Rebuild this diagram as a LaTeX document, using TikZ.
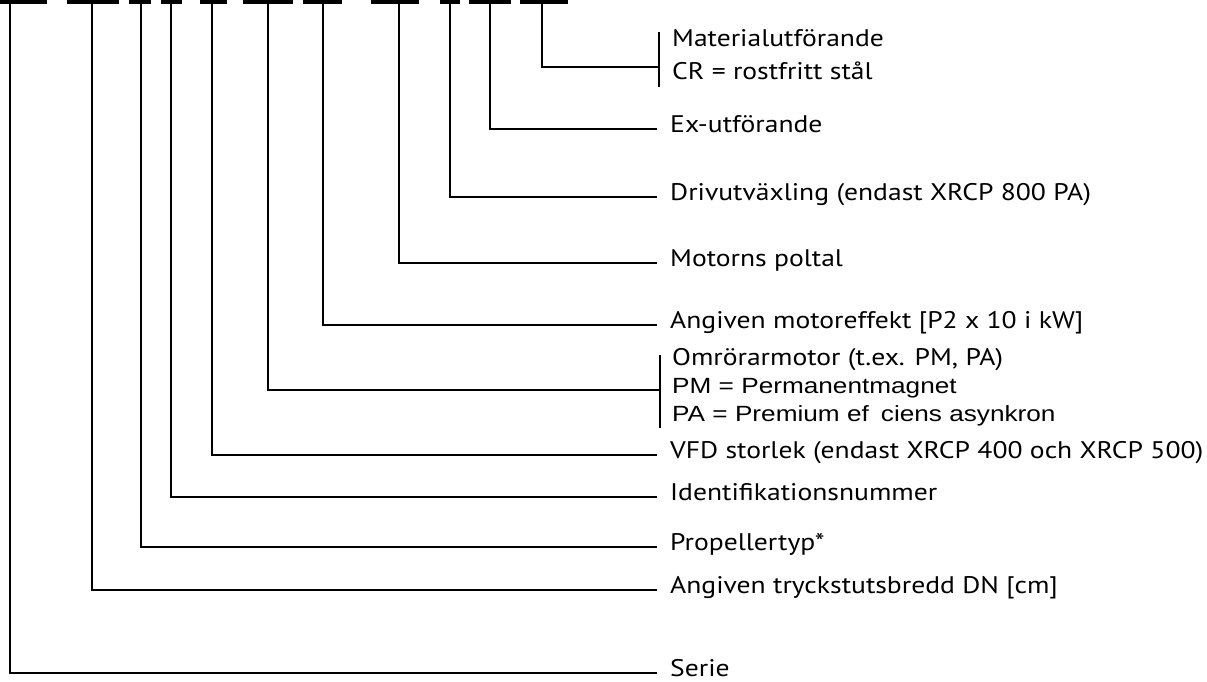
\documentclass[tikz,border=0pt]{standalone}
\usepackage{fontspec}
\setmainfont[FakeStretch=1.15]{PT Sans}
\newfontfamily\arialf[FakeStretch=1.19]{Liberation Sans}
\begin{document}
\begin{tikzpicture}[x=1pt,y=-1pt,
  lbl/.style={anchor=west, inner xsep=13pt, inner ysep=0pt, text height=0.7em, text depth=0pt, font=\fontsize{24}{28}\selectfont},
  albl/.style={lbl, font=\arialf\fontsize{22}{27}\selectfont},
  bar/.style={line width=4pt},
  conn/.style={line width=1.3pt},
  brk/.style={line width=1.3pt}]
\useasboundingbox (0,0) rectangle (1207,682);
% top bars
\foreach \a/\b in {0/47,67/119,129/151,161/182,200/227,243/293,303/342,371/419,440/460,469/511,520/568}
  \draw[bar] (\a,2) -- (\b,2);
\coordinate (b1) at (10,4);
\coordinate (b2) at (92,4);
\coordinate (b3) at (141,4);
\coordinate (b4) at (171,4);
\coordinate (b5) at (212,4);
\coordinate (b6) at (268,4);
\coordinate (b7) at (323,4);
\coordinate (b8) at (399,4);
\coordinate (b9) at (450,4);
\coordinate (b10) at (490,4);
\coordinate (b11) at (542,4);
% labels
\node[lbl] (mat1) at (659,43) {Materialutförande};
\node[lbl] (mat2) at (659,76) {CR = rostfritt stål};
\coordinate (matt) at (659,32);
\coordinate (matb) at (659,87);
\coordinate (matc) at (659,67);
\node[lbl] (ex) at (657,129) {Ex-utförande};
\node[lbl] (driv) at (657,197) {Drivutväxling (endast XRCP 800 PA)};
\node[lbl] (pol) at (657,263) {Motorns poltal};
\node[lbl] (eff) at (657,325) {Angiven motoreffekt [P2 x 10 i kW]};
\node[lbl] (om1) at (659,362) {Omrörarmotor (t.ex. PM, PA)};
\node[albl] (om2) at (659,390) {PM = Permanentmagnet};
\node[albl] (om3) at (659,418) {PA = Premium ef\hspace{0.55em}ciens asynkron};
\coordinate (omt) at (660,355);
\coordinate (omb) at (660,428);
\coordinate (omc) at (660,390);
\node[lbl] (vfd) at (657,455) {VFD storlek (endast XRCP 400 och XRCP 500)};
\node[lbl] (id) at (657,497) {Identifikationsnummer};
\node[lbl] (prop) at (657,547) {Propellertyp*};
\node[lbl] (dn) at (657,590) {Angiven tryckstutsbredd DN [cm]};
\node[lbl] (serie) at (657,673) {Serie};
% brackets
\draw[brk] (matt) -- (matb);
\draw[brk] (omt) -- (omb);
% connectors
\draw[conn] (b1) |- (serie.west);
\draw[conn] (b2) |- (dn.west);
\draw[conn] (b3) |- (prop.west);
\draw[conn] (b4) |- (id.west);
\draw[conn] (b5) |- (vfd.west);
\draw[conn] (b6) |- (omc);
\draw[conn] (b7) |- (eff.west);
\draw[conn] (b8) |- (pol.west);
\draw[conn] (b9) |- (driv.west);
\draw[conn] (b10) |- (ex.west);
\draw[conn] (b11) |- (matc);
\end{tikzpicture}
\end{document}
